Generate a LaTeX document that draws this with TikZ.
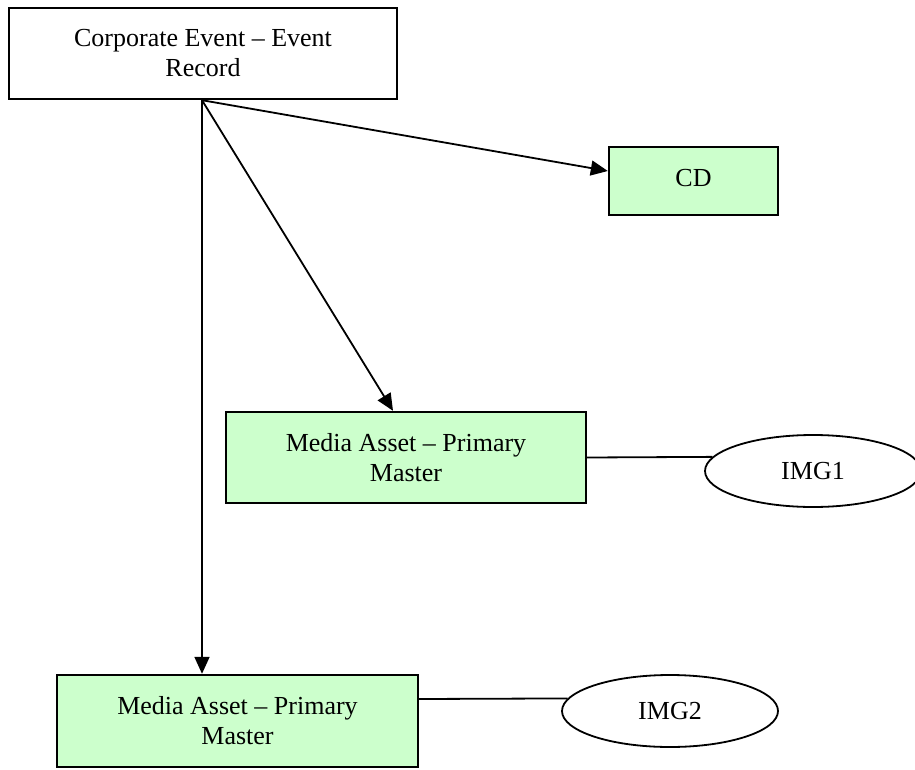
\documentclass[tikz,border=0pt]{standalone}
\usepackage{fontspec}
\setmainfont{Liberation Serif}
\usetikzlibrary{shapes.geometric,arrows.meta}
\definecolor{boxgreen}{HTML}{CCFFCC}
\begin{document}
\begin{tikzpicture}[x=1pt,y=-1pt,
  every node/.style={font=\fontsize{26}{30}\selectfont, align=center, text=black},
  boxw/.style={draw=black, line width=2.4pt, rectangle, inner sep=0pt},
  boxg/.style={boxw, fill=boxgreen},
  ell/.style={draw=black, line width=1.8pt, ellipse, inner sep=0pt, minimum width=216pt, minimum height=72pt},
  conn/.style={draw=black, line width=1.8pt},
  arr/.style={conn, -{Triangle[length=17pt,width=15pt]}}
]
\useasboundingbox (0,0) rectangle (915,770);
\clip (0,0) rectangle (915,770);
\node[boxw, minimum width=388pt, minimum height=91pt] (top) at (203,53.5) {Corporate Event -- Event\\Record};
\node[boxg, minimum width=169pt, minimum height=68pt, text height=24pt, text depth=14pt] (cd) at (693.5,181) {CD};
\node[boxg, minimum width=360pt, minimum height=91pt] (ma1) at (406,457.5) {Media Asset -- Primary\\Master};
\node[boxg, minimum width=361pt, minimum height=92pt] (ma2) at (237.5,721) {Media Asset -- Primary\\Master};
\node[ell] (img1) at (813,471) {IMG1};
\node[ell] (img2) at (670,711) {IMG2};
\draw[arr] ([xshift=-1pt]top.south) -- ([yshift=10pt]cd.west);
\draw[arr] ([xshift=-1pt]top.south) -- ([xshift=-13pt]ma1.north);
\draw[arr] ([xshift=-1pt]top.south) -- ([xshift=-1pt]top.south |- ma2.north);
\draw[conn] (ma1.east) -- (img1.172);
\draw[conn] ([yshift=22pt]ma2.east) -- (img2.173);
\end{tikzpicture}
\end{document}
